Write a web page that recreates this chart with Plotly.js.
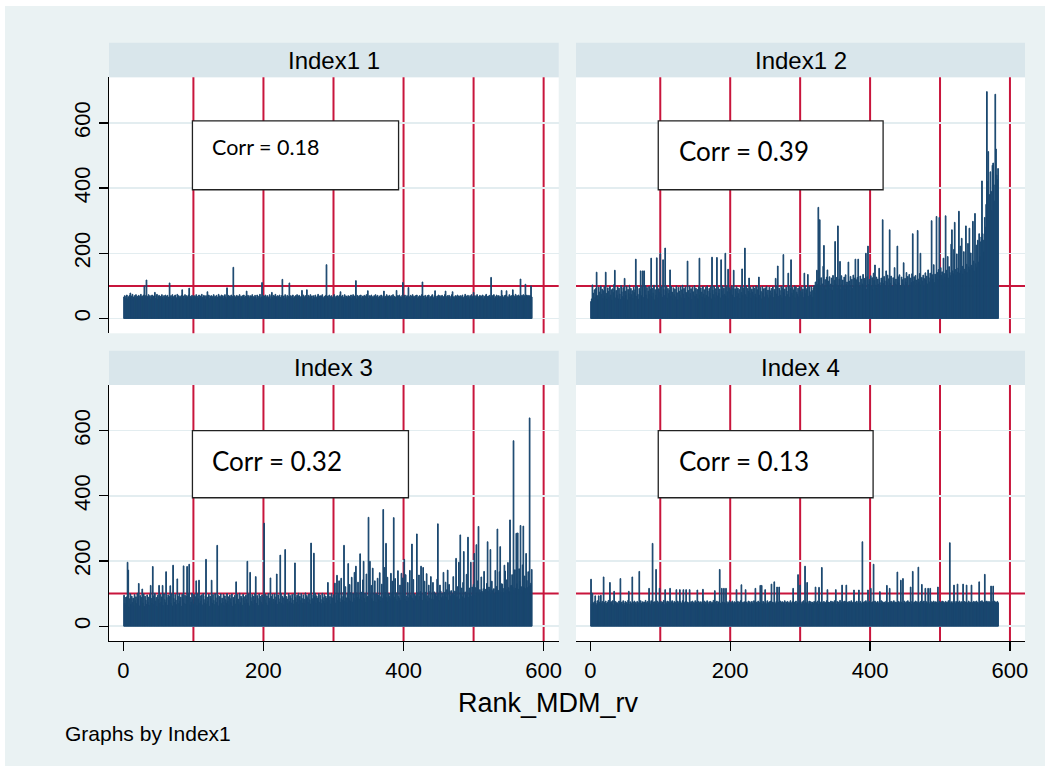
<!DOCTYPE html>
<html>
<head>
<meta charset="utf-8">
<script src="https://cdn.plot.ly/plotly-3.0.1.min.js"></script>
<style>
  html, body { margin: 0; padding: 0; background: #ffffff; }
  #chart { position: absolute; left: 5px; top: 6px; width: 1040px; height: 760px; }
</style>
</head>
<body>
<div id="chart"></div>
<script>
// ── Data: one value per rank (Rank_MDM_rv = 1..583) ──
const panelTitles = ['Index1 1', 'Index1 2', 'Index 3', 'Index 4'];
const corrLabels  = ['Corr = 0.18', 'Corr = 0.39', 'Corr = 0.32', 'Corr = 0.13'];
const xTickVals   = [0, 200, 400, 600];
const yTickVals   = [0, 200, 400, 600];
const refLinesX   = [100, 200, 300, 400, 500, 600];
const refLineY    = 100;

const index1Vals1 = [
  66,70,62,68,72,60,67,64,71,78,63,69,74,58,66,70,61,73,65,68,
  62,71,67,60,74,66,69,63,72,100,65,70,118,61,68,73,64,70,59,67,
  72,63,69,66,80,61,70,74,58,67,71,64,68,62,73,66,60,70,65,72,
  63,68,71,59,66,109,64,70,62,73,67,60,69,72,65,61,74,66,70,63,
  68,62,71,88,64,69,60,73,66,70,63,67,72,93,61,68,65,71,59,66,
  70,64,67,73,61,68,62,72,66,69,60,74,65,63,71,67,58,70,64,82,
  66,72,61,69,64,70,67,62,73,65,68,60,71,66,63,74,69,61,67,72,
  64,70,62,68,73,66,60,94,67,71,63,69,65,72,61,68,157,64,70,66,
  62,71,67,64,69,73,60,68,65,70,63,72,66,61,69,84,64,71,67,62,
  70,65,68,73,61,67,64,71,66,60,72,69,63,68,74,62,66,110,65,70,
  64,69,72,61,67,70,63,66,73,60,68,80,65,71,62,69,74,64,67,70,
  61,68,72,65,63,70,120,66,69,62,73,67,60,71,64,68,109,65,70,63,
  69,72,61,67,64,70,66,73,62,68,71,60,65,69,86,63,72,67,61,70,
  66,88,64,71,68,62,73,65,69,60,70,67,63,72,66,61,68,74,64,69,
  62,70,67,73,65,61,68,64,71,165,66,69,63,72,60,67,70,65,62,68,
  73,66,61,69,64,70,67,62,72,82,65,68,71,60,66,73,63,69,67,64,
  70,62,68,65,72,61,67,73,64,69,66,116,60,71,68,63,70,65,72,62,
  67,69,64,71,60,68,73,66,85,62,70,65,68,72,61,67,64,70,66,73,
  63,68,71,60,66,69,64,72,67,61,70,84,65,68,62,73,66,69,64,71,
  67,62,70,65,73,61,68,64,66,86,70,63,69,72,60,67,65,71,110,64,
  68,72,61,66,70,63,95,67,64,71,60,69,73,65,68,62,70,66,72,61,
  67,64,70,68,62,73,112,65,69,61,71,66,63,70,68,72,60,67,64,69,
  73,65,62,70,85,67,61,69,64,72,66,70,63,68,71,60,67,65,73,84,
  62,68,70,64,71,66,60,69,73,82,65,67,62,70,68,64,72,61,69,66,
  70,63,67,72,65,61,68,74,64,69,62,71,66,60,70,67,73,63,68,80,
  65,70,62,68,73,64,67,61,71,66,69,63,72,60,68,65,70,74,62,67,
  69,64,71,66,126,62,70,68,73,61,67,65,72,63,69,70,64,68,62,86,
  71,66,63,70,68,72,85,61,67,64,73,69,62,70,66,88,71,65,68,74,
  63,70,67,72,65,69,121,64,71,68,73,62,70,105,66,72,69,64,71,67,
  70,100,66
];

const index1Vals2 = [
  52,60,103,78,55,88,64,92,142,70,58,96,81,66,100,74,90,61,85,97,
  68,142,77,59,94,83,65,99,72,88,56,91,79,104,148,63,86,71,97,60,
  93,75,58,101,82,67,95,62,123,84,70,98,57,89,76,102,64,92,73,85,
  61,96,79,88,182,68,99,74,59,92,83,146,70,97,146,64,146,87,101,72,
  95,60,84,98,73,90,185,66,93,78,102,57,88,71,186,96,63,91,80,200,
  74,97,65,180,89,70,216,83,99,62,92,76,87,149,68,98,81,60,94,73,
  90,66,100,79,57,95,84,71,98,63,88,102,75,92,61,97,80,69,176,86,
  64,99,77,91,58,96,82,70,101,67,93,74,89,60,97,185,72,94,81,65,
  98,75,88,62,95,71,100,84,66,92,78,97,60,188,87,73,99,64,91,80,
  187,69,96,77,90,63,180,85,99,70,93,74,200,68,97,82,151,61,94,79,
  88,100,72,95,148,64,91,83,98,67,93,76,89,61,97,80,152,70,94,86,
  216,73,99,65,92,84,124,78,96,62,90,81,98,69,93,75,100,64,88,97,
  127,71,95,83,60,98,77,91,66,94,80,99,72,87,63,96,85,70,92,78,
  97,64,89,82,123,75,99,161,68,93,86,71,98,62,94,196,79,90,67,96,
  84,73,139,99,65,92,180,78,95,70,88,100,63,97,81,74,93,66,98,85,
  71,96,80,90,64,139,99,76,88,93,135,68,97,82,72,99,86,65,94,101,
  78,112,95,148,104,341,120,303,98,125,92,106,160,224,97,119,88,127,149,115,
  102,128,91,106,124,87,132,99,117,236,105,126,93,284,100,121,175,89,131,103,
  118,97,127,90,134,104,112,99,173,115,86,129,101,120,92,133,98,124,182,119,
  103,126,182,111,97,130,94,121,106,135,100,123,117,200,89,128,222,104,120,112,
  131,99,125,88,139,116,164,102,127,93,121,105,154,110,98,124,118,303,107,129,
  115,100,146,111,133,94,122,272,108,130,97,99,125,112,156,106,121,103,222,128,
  109,134,94,101,127,119,106,171,98,123,112,141,104,129,96,135,102,124,110,137,
  260,113,128,95,132,118,107,270,121,111,138,200,103,126,115,133,99,122,140,117,
  130,106,149,125,112,139,118,300,134,121,165,110,136,127,313,141,119,150,310,128,
  156,132,143,120,185,138,127,315,148,135,190,124,159,141,131,228,272,146,137,212,
  295,150,133,198,142,155,329,139,222,147,246,160,136,205,151,144,284,166,140,230,
  158,277,149,201,163,154,298,176,145,322,168,225,157,240,173,260,190,235,250,422,
  260,240,204,310,280,350,696,420,512,300,380,450,390,330,470,477,410,360,688,520,
  440,426,460
];

const index3Vals = [
  95,70,88,64,90,196,172,58,84,99,66,92,73,86,61,97,78,90,69,101,
  83,131,62,94,76,88,114,71,99,60,92,80,67,96,74,89,63,98,125,85,
  70,183,93,66,101,77,88,60,95,82,125,69,97,74,90,125,63,99,81,72,
  167,88,64,96,78,91,124,70,99,62,187,85,73,97,80,66,145,92,69,100,
  76,89,61,98,83,185,70,95,67,92,183,79,99,190,64,88,74,101,81,68,
  97,72,90,139,63,99,84,141,70,93,77,96,65,100,82,71,94,205,68,89,
  75,98,61,92,84,141,70,97,79,66,100,87,73,248,95,62,91,80,99,69,
  86,74,98,63,93,81,70,100,77,90,65,96,84,72,99,61,88,79,94,68,
  136,75,97,83,66,101,72,92,86,64,98,78,90,69,95,82,199,71,99,62,
  165,88,76,97,67,92,80,100,152,70,94,85,63,99,78,91,73,96,66,89,
  316,81,98,71,93,64,100,86,75,148,92,68,97,83,72,99,79,90,160,67,
  96,84,74,218,101,70,92,87,65,98,235,77,91,83,69,100,75,94,86,71,
  97,80,68,99,194,88,73,95,82,101,66,92,78,100,85,71,96,83,69,102,
  79,94,87,72,99,81,68,255,96,84,75,224,90,101,70,93,86,78,100,73,
  95,82,69,101,88,77,97,70,92,85,74,134,99,80,91,68,100,87,76,96,
  83,132,71,94,156,78,100,139,85,73,147,91,80,104,248,76,121,87,72,101,
  192,84,128,77,103,150,74,100,86,165,79,184,102,88,135,97,83,222,91,104,
  78,142,199,85,101,73,160,88,92,334,80,199,97,125,84,178,76,102,139,98,
  74,100,147,95,81,164,90,77,129,86,358,93,180,103,254,88,150,75,101,91,
  84,162,99,138,105,333,89,146,82,102,76,170,91,85,126,79,162,94,148,101,
  205,83,158,92,77,134,87,100,171,96,90,252,85,143,78,99,93,88,283,102,
  80,157,91,106,184,100,79,180,95,138,104,82,161,93,77,126,86,107,152,83,
  102,134,81,105,100,99,92,144,314,101,78,126,108,87,102,91,165,83,104,135,
  89,112,172,80,128,106,93,109,101,97,152,108,94,106,208,88,121,91,196,83,
  280,99,117,90,134,229,86,105,95,159,98,273,88,117,100,196,92,120,97,128,
  223,94,118,250,101,139,306,96,112,104,151,107,100,115,168,110,113,95,131,259,
  106,120,113,235,97,138,108,112,115,99,171,105,122,298,110,101,167,244,104,130,
  129,116,103,187,169,107,142,112,195,118,106,326,124,125,158,119,569,111,173,116,
  285,130,286,113,176,137,309,121,110,188,307,119,154,115,223,140,118,167,122,639,
  125,132,174
];

const index4Vals = [
  144,68,101,72,66,75,93,70,64,78,69,93,74,67,95,71,76,65,151,73,
  68,77,70,66,74,79,67,134,72,75,69,78,65,107,71,76,68,73,70,66,
  77,72,146,69,74,67,78,71,65,76,70,73,68,79,107,66,75,72,69,151,
  74,67,77,70,73,68,76,65,72,168,69,78,71,66,75,70,74,67,79,72,
  68,76,71,116,73,66,78,70,254,74,67,75,72,174,69,77,65,73,116,70,
  76,68,74,71,79,66,112,73,70,77,67,75,72,116,69,74,78,66,71,76,
  70,73,112,67,77,72,68,112,75,71,66,78,112,73,69,76,112,70,74,67,
  72,112,68,75,71,77,66,73,70,78,69,74,111,67,76,72,70,75,68,73,
  113,71,77,66,74,69,78,72,67,75,70,76,68,73,71,79,66,109,74,70,
  77,68,73,75,174,71,67,116,74,70,116,72,69,116,76,68,73,71,78,66,
  74,70,77,72,67,75,69,73,112,71,76,68,74,70,78,127,66,73,71,75,
  69,112,74,72,67,77,70,75,68,73,76,71,66,78,72,116,69,74,70,77,
  67,73,125,71,125,68,76,74,70,112,72,67,78,73,69,75,71,77,129,66,
  74,70,136,72,67,76,120,71,74,120,69,77,73,66,75,72,70,78,68,74,
  71,76,67,73,70,78,72,66,75,116,69,74,71,77,68,73,158,70,76,126,
  72,67,75,71,78,69,184,74,70,134,73,68,77,71,75,66,74,72,70,76,
  69,120,73,71,77,67,119,75,70,74,180,72,68,76,71,73,69,78,112,70,
  74,72,67,77,71,75,69,73,78,70,112,68,76,72,74,67,79,71,73,126,
  70,75,68,77,72,126,69,74,71,76,67,73,78,70,72,75,111,68,74,71,
  77,69,73,111,70,76,72,68,259,74,71,75,67,78,73,70,111,72,76,69,
  116,73,71,75,190,68,77,72,70,74,76,69,73,106,71,78,67,75,72,70,
  74,69,77,125,71,73,68,116,75,70,76,72,67,78,71,74,69,73,166,70,
  76,72,68,141,74,71,146,69,77,73,70,75,68,78,72,74,71,120,67,76,
  168,70,74,72,77,69,75,71,181,73,68,76,70,128,74,72,77,69,116,71,
  75,70,116,73,68,116,76,71,74,69,77,72,70,75,73,68,120,71,76,74,
  70,73,77,69,75,72,68,76,71,74,70,78,73,256,69,75,72,71,77,126,
  73,69,76,71,129,74,70,77,72,68,75,73,129,71,76,70,74,126,72,69,
  77,71,74,70,126,73,68,76,72,75,70,77,71,74,69,136,73,76,70,78,
  72,74,69,159,75,71,77,73,70,76,72,74,123,71,75,123,70,77,73,74,
  71,76,72
];

const panelValues = [index1Vals1, index1Vals2, index3Vals, index4Vals];

// ── Page geometry (div sits at 5,6 and is 1040x760) ───────────────────────
const W = 1040, H = 760, OX = 5, OY = 6;
const px = v => (v - OX) / W;
const py = v => 1 - (v - OY) / H;

const BAR    = '#1a476f';
const RED    = '#c8153c';
const HEADER = '#d9e6eb';
const BG     = '#eaf2f3';
const FONT   = 'Liberation Sans, Arial, sans-serif';
const XRANGE = [-20.5, 621.5];
const YRANGE = [-45.5, 740];

const colDomains = [[px(109), px(558.7)], [px(576), px(1025)]];
const rowDomains = [[py(333.3), py(77.3)], [py(641), py(385)]];
const headerPx   = [[42.7, 77.3], [350.7, 385]];

// Corr box geometry per panel, data units: [x0, x1, y0, y1, textY, fontSize]
const corrBoxes = [
  [98.6, 392.9, 395, 606, 527, 21.5],
  [97.1, 418.6, 395, 606, 514, 26],
  [98.6, 407.0, 394, 600, 508, 26],
  [97.1, 404.3, 394, 600, 508, 26],
];

const traces = [];
const shapes = [];
const annotations = [];
const layout = {
  width: W, height: H,
  margin: {l: 0, r: 0, t: 0, b: 0},
  paper_bgcolor: BG,
  plot_bgcolor: '#ffffff',
  showlegend: false,
  hovermode: false,
  bargap: 0,
  font: {family: FONT, color: '#000', size: 22},
};

panelValues.forEach((vals, i) => {
  const n   = i + 1;
  const sfx = n === 1 ? '' : String(n);
  const col = i % 2, row = Math.floor(i / 2);
  const xa  = 'x' + sfx, ya = 'y' + sfx;

  traces.push({
    type: 'bar',
    x: vals.map((_, k) => k + 1),
    y: vals,
    width: 1,
    xaxis: xa, yaxis: ya,
    marker: {color: BAR, line: {color: BAR, width: 1}},
  });

  layout['xaxis' + sfx] = {
    domain: colDomains[col],
    anchor: ya,
    range: XRANGE,
    showgrid: false, zeroline: false,
    showline: row === 1, linecolor: '#000', linewidth: 1.3,
    ticks: row === 1 ? 'outside' : '', ticklen: 9, tickcolor: '#000', tickwidth: 1.3,
    tickvals: xTickVals,
    showticklabels: row === 1,
    tickfont: {size: 22, family: FONT},
    fixedrange: true,
  };
  layout['yaxis' + sfx] = {
    domain: rowDomains[row],
    anchor: xa,
    range: YRANGE,
    showgrid: true, gridcolor: '#e3edf0', gridwidth: 1.5,
    zeroline: false,
    showline: col === 0, linecolor: '#000', linewidth: 1.3,
    ticks: col === 0 ? 'outside' : '', ticklen: 9, tickcolor: '#000', tickwidth: 1.3,
    tickvals: yTickVals,
    showticklabels: col === 0,
    tickangle: -90,
    tickfont: {size: 22, family: FONT},
    fixedrange: true,
  };

  // panel header strip + title
  const [h0, h1] = headerPx[row];
  shapes.push({
    type: 'rect', xref: 'paper', yref: 'paper', layer: 'below',
    x0: colDomains[col][0], x1: colDomains[col][1], y0: py(h1), y1: py(h0),
    fillcolor: HEADER, line: {width: 0},
  });
  annotations.push({
    xref: 'paper', yref: 'paper', xanchor: 'center', yanchor: 'middle',
    x: (colDomains[col][0] + colDomains[col][1]) / 2, y: py((h0 + h1) / 2),
    text: panelTitles[i], showarrow: false,
    font: {size: 24, family: FONT, color: '#000'},
  });

  // red reference lines
  refLinesX.forEach(v => shapes.push({
    type: 'line', xref: xa, yref: ya + ' domain', layer: 'below',
    x0: v, x1: v, y0: 0, y1: 1, line: {color: RED, width: 2},
  }));
  shapes.push({
    type: 'line', xref: xa + ' domain', yref: ya, layer: 'below',
    x0: 0, x1: 1, y0: refLineY, y1: refLineY, line: {color: RED, width: 2},
  });

  // correlation box
  const b = corrBoxes[i];
  shapes.push({
    type: 'rect', xref: xa, yref: ya, layer: 'above',
    x0: b[0], x1: b[1], y0: b[2], y1: b[3],
    fillcolor: '#ffffff', line: {color: '#222', width: 1.3},
  });
  annotations.push({
    xref: xa, yref: ya, x: 124, y: b[4], xanchor: 'left', yanchor: 'middle',
    text: corrLabels[i], showarrow: false,
    font: {size: b[5], family: 'Lato, Carlito, sans-serif', color: '#000'},
  });
});

annotations.push({
  xref: 'paper', yref: 'paper', x: px(548), y: py(703),
  xanchor: 'center', yanchor: 'middle',
  text: 'Rank_MDM_rv', showarrow: false,
  font: {size: 27, family: FONT, color: '#000'},
});
annotations.push({
  xref: 'paper', yref: 'paper', x: px(63), y: py(733),
  xanchor: 'left', yanchor: 'middle',
  text: 'Graphs by Index1', showarrow: false,
  font: {size: 21, family: FONT, color: '#000'},
});

layout.shapes = shapes;
layout.annotations = annotations;

Plotly.newPlot('chart', traces, layout, {displayModeBar: false, staticPlot: true});
</script>
</body>
</html>
